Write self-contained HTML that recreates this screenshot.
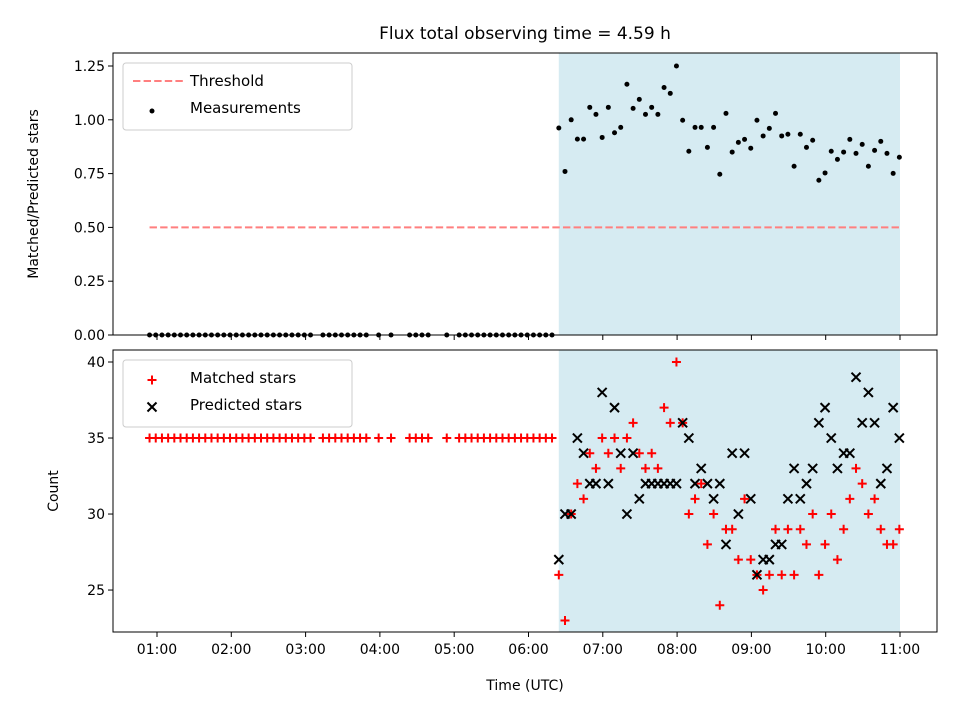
<!DOCTYPE html>
<html><head><meta charset="utf-8"><style>
html,body{margin:0;padding:0;background:#fff;}
svg{display:block;font-family:"DejaVu Sans","Liberation Sans",sans-serif;}
</style></head><body>
<svg id="chart" width="960" height="720" viewBox="0 0 960 720">
<text x="525" y="39" font-size="17" text-anchor="middle">Flux total observing time = 4.59 h</text>
<g id="topPanel"></g>
<g id="botPanel"></g>
</svg>
<script>
// pre-observation timestamps (5-min slot indices from 00:54)
const preSlots = [0,1,2,3,4,5,6,7,8,9,10,11,12,13,14,15,16,17,18,19,20,21,22,23,24,25,26,28,29,30,31,32,33,34,35,37,39,42,43,44,45,48,50,51,52,53,54,55,56,57,58,59,60,61,62,63,64,65];
const preRatio = 0;
const preMatched = 35;
// observing period: 56 samples, 5 min apart from 06:24.5
const ratio = [0.962,0.76,1.0,0.91,0.91,1.058,1.025,0.918,1.058,0.94,0.965,1.165,1.053,1.095,1.025,1.058,1.025,1.15,1.123,1.25,0.998,0.854,0.965,0.965,0.872,0.965,0.747,1.03,0.85,0.895,0.909,0.868,0.998,0.925,0.96,1.03,0.925,0.933,0.784,0.933,0.872,0.905,0.719,0.753,0.854,0.816,0.85,0.909,0.844,0.886,0.784,0.858,0.9,0.844,0.751,0.826];
const matched = [26,23,30,32,31,34,33,35,34,35,33,35,36,34,33,34,33,37,36,40,36,30,31,32,28,30,24,29,29,27,31,27,26,25,26,29,26,29,26,29,28,30,26,28,30,27,29,31,33,32,30,31,29,28,28,29];
const predicted = [27,30,30,35,34,32,32,38,32,37,34,30,34,31,32,32,32,32,32,32,36,35,32,33,32,31,32,28,34,30,34,31,26,27,27,28,28,31,33,31,32,33,36,37,35,33,34,34,39,36,38,36,32,33,37,35];
const threshold = 0.5;
const xTicks = [1,2,3,4,5,6,7,8,9,10,11];
const topTicks = [0,0.25,0.5,0.75,1.0,1.25];
const botTicks = [25,30,35,40];

const NS="http://www.w3.org/2000/svg";
const L=113,R=937;
const X0=0.408,X1=11.498;
const xs=h=>L+(h-X0)/(X1-X0)*(R-L);
const TP={t:53,b:335,y0:0,y1:1.3104};
const BP={t:350,b:632,y0:22.24,y1:40.79};
const ys=(p,v)=>p.b-(v-p.y0)/(p.y1-p.y0)*(p.b-p.t);
const preT=k=>0.9+k*5/60;
const obsT=k=>6.408+k*5/60;
function mk(parent,tag,attrs){const e=document.createElementNS(NS,tag);for(const k in attrs)e.setAttribute(k,attrs[k]);parent.appendChild(e);return e;}
const topG=document.getElementById('topPanel'),botG=document.getElementById('botPanel');

function panel(g,p){
  const sh=mk(g,'rect',{x:xs(6.408),y:p.t,width:xs(11)-xs(6.408),height:p.b-p.t,fill:'#add8e6','fill-opacity':0.5});
  
  
}
panel(topG,TP);panel(botG,BP);

const th=mk(topG,'line',{x1:xs(0.9),x2:xs(11),y1:ys(TP,threshold),y2:ys(TP,threshold),stroke:'#ff7f7f','stroke-width':2,'stroke-dasharray':'7.4,3.2'});



function dot(v,t){const c=mk(topG,'circle',{cx:xs(t),cy:ys(TP,v),r:2.5,fill:'#000'});

}
preSlots.forEach(k=>dot(preRatio,preT(k)));
ratio.forEach((v,k)=>dot(v,obsT(k)));

function plus(v,t){const cx=xs(t),cy=ys(BP,v);const g=mk(botG,'path',{d:`M${cx-4.5},${cy}H${cx+4.5}M${cx},${cy-4.5}V${cy+4.5}`,stroke:'#f00','stroke-width':2});

}
function cross(v,t){const cx=xs(t),cy=ys(BP,v),d=4.5;const g=mk(botG,'path',{d:`M${cx-d},${cy-d}L${cx+d},${cy+d}M${cx-d},${cy+d}L${cx+d},${cy-d}`,stroke:'#000','stroke-width':2});

}
preSlots.forEach(k=>plus(preMatched,preT(k)));
matched.forEach((v,k)=>plus(v,obsT(k)));
predicted.forEach((v,k)=>cross(v,obsT(k)));

function frame(g,p,ticks,fmt,xlabels){
  const f=mk(g,'rect',{x:L,y:p.t,width:R-L,height:p.b-p.t,fill:'none',stroke:'#000','stroke-width':1});
  
  
  ticks.forEach(v=>{const y=ys(p,v);mk(g,'line',{x1:L-5,x2:L,y1:y,y2:y,stroke:'#000'});
    const t=mk(g,'text',{x:L-8,y:y+5,'font-size':14,'text-anchor':'end'});t.textContent=fmt(v);
    
    });
  xTicks.forEach(h=>{const x=xs(h);mk(g,'line',{x1:x,x2:x,y1:p.b,y2:p.b+5,stroke:'#000'});
    if(xlabels){const t=mk(g,'text',{x:x,y:p.b+22,'font-size':14,'text-anchor':'middle'});t.textContent=(h<10?'0':'')+h+':00';
    
    }});
}
frame(topG,TP,topTicks,v=>v.toFixed(2),false);
frame(botG,BP,botTicks,v=>String(v),true);

function label(g,txt,x,y,rot,name){const t=mk(g,'text',{x:x,y:y,'font-size':14,'text-anchor':'middle'});if(rot)t.setAttribute('transform',`rotate(-90 ${x} ${y})`);t.textContent=txt;

}
label(topG,'Matched/Predicted stars',38,194,true,'top-y-axis-title');
label(botG,'Count',58,491,true,'bottom-y-axis-title');
label(botG,'Time (UTC)',525,690,false,'x-axis-title');

function legend(g,y0,entries){
  const lg=mk(g,'g',{});
  
  
  mk(lg,'rect',{x:123,y:y0,width:229,height:67,rx:3,fill:'#fff','fill-opacity':0.8,stroke:'#ccc'});
  entries.forEach((e,i)=>{const cy=y0+18+i*27;e.sym(lg,158,cy);
    const t=mk(lg,'text',{x:190,y:cy+5,'font-size':15});t.textContent=e.txt;
    
    });
}
legend(topG,63,[
 {txt:'Threshold',sym:(g,x,y)=>mk(g,'line',{x1:x-25,x2:x+25,y1:y,y2:y,stroke:'#ff7f7f','stroke-width':2,'stroke-dasharray':'7.4,3.2'})},
 {txt:'Measurements',sym:(g,x,y)=>mk(g,'circle',{cx:x-6,cy:y+3,r:2.5,fill:'#000'})}]);
legend(botG,360,[
 {txt:'Matched stars',sym:(g,x,y)=>mk(g,'path',{d:`M${x-10.5},${y+2}h9M${x-6},${y-2.5}v9`,stroke:'#f00','stroke-width':2})},
 {txt:'Predicted stars',sym:(g,x,y)=>mk(g,'path',{d:`M${x-10.5},${y-2.5}l9,9M${x-10.5},${y+6.5}l9,-9`,stroke:'#000','stroke-width':2})}]);
</script>
</body></html>
